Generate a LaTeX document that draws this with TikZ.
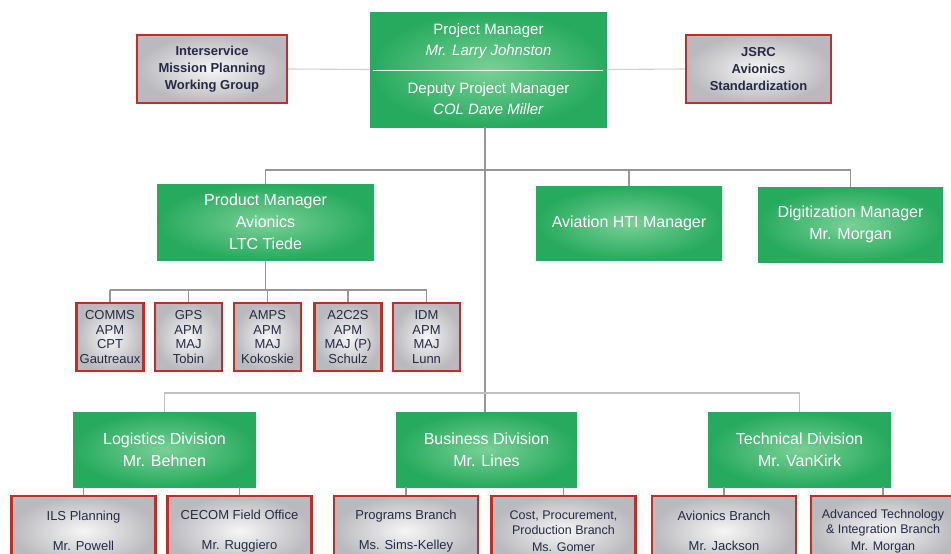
\documentclass[tikz,border=0pt]{standalone}
\usepackage{fontspec}
\setmainfont{Liberation Sans}
\usepackage{tikz}
\usetikzlibrary{calc}
\definecolor{MgrGreen}{RGB}{38,170,94}
\definecolor{MgrGlow}{RGB}{122,208,150}
\definecolor{BoxRed}{RGB}{196,44,38}
\definecolor{BoxGrey}{RGB}{186,186,190}
\definecolor{BoxShine}{RGB}{246,246,246}
\definecolor{InkNavy}{RGB}{38,42,70}
\definecolor{WireGrey}{RGB}{150,150,150}

\begin{document}
\begin{tikzpicture}[x=1pt,y=-1pt,
    mgr/.style={rectangle,inner sep=0pt,outer color=MgrGreen,inner color=MgrGlow,text=white,align=center,font=\fontsize{16}{22}\selectfont},
    staff/.style={rectangle,inner sep=0pt,draw=BoxRed,line width=2.4pt,outer color=BoxGrey,inner color=BoxShine,text=InkNavy,align=center},
    apm/.style={staff,minimum width=67pt,minimum height=68pt,font=\fontsize{13}{14.5}\selectfont},
    branch/.style={staff,minimum width=144pt,minimum height=70pt,font=\fontsize{13}{16}\selectfont},
    wire/.style={WireGrey,line width=1.1pt}]
  \path[use as bounding box,clip] (0,0) rectangle (951,554);
  \fill[white] (0,0) rectangle (951,554);

  \node[mgr,minimum width=237pt,minimum height=115pt,font=\fontsize{15}{21}\selectfont] (pm) at (488.5,69.5)
    {Project Manager\\\textit{Mr. Larry Johnston}\\[17pt]Deputy Project Manager\\\textit{COL Dave Miller}};
  \draw[white,line width=1.6pt] ($(pm.west)+(3,1)$) -- ($(pm.east)+(-4,1)$);
  \node[staff,minimum width=150pt,minimum height=68pt,font=\bfseries\fontsize{13}{17}\selectfont] (isg) at (212,69)
    {Interservice\\Mission Planning\\Working Group};
  \node[staff,minimum width=145pt,minimum height=68pt,font=\bfseries\fontsize{13}{17}\selectfont] (jsrc) at (758.5,69)
    {JSRC\\Avionics\\Standardization};

  \node[mgr,minimum width=217pt,minimum height=76pt] (prodmgr) at (265.5,222) {Product Manager\\Avionics\\LTC Tiede};
  \node[mgr,minimum width=186pt,minimum height=74pt] (hti) at (629,223) {Aviation HTI Manager};
  \node[mgr,minimum width=185pt,minimum height=75pt] (digi) at (850.5,224.5) {Digitization Manager\\Mr. Morgan};

  \node[apm] (comms) at (110,337) {COMMS\\APM\\CPT\\Gautreaux};
  \node[apm] (gps) at (188.5,337) {GPS\\APM\\MAJ\\Tobin};
  \node[apm] (amps) at (267.5,337) {AMPS\\APM\\MAJ\\Kokoskie};
  \node[apm] (acs) at (348,337) {A2C2S\\APM\\MAJ (P)\\Schulz};
  \node[apm] (idm) at (426.5,337) {IDM\\APM\\MAJ\\Lunn};

  \node[mgr,minimum width=183pt,minimum height=75pt] (logdiv) at (164.5,449.5) {Logistics Division\\Mr. Behnen};
  \node[mgr,minimum width=181pt,minimum height=75pt] (busdiv) at (486.5,449.5) {Business Division\\Mr. Lines};
  \node[mgr,minimum width=183pt,minimum height=75pt] (techdiv) at (799.5,449.5) {Technical Division\\Mr. VanKirk};

  \node[branch] (ils) at (83.5,531) {ILS Planning\\[14pt]Mr. Powell};
  \node[branch] (cecom) at (239.5,531) {CECOM Field Office\\[14pt]Mr. Ruggiero};
  \node[branch] (progbr) at (406,531) {Programs Branch\\[14pt]Ms. Sims-Kelley};
  \node[branch,font=\fontsize{12.5}{15}\selectfont] (costbr) at (563.5,531) {Cost, Procurement,\\Production Branch\\[2pt]Ms. Gomer};
  \node[branch] (avbr) at (724,531) {Avionics Branch\\[14pt]Mr. Jackson};
  \node[branch,font=\fontsize{12.5}{15}\selectfont] (atibr) at (883,531) {Advanced Technology\\\& Integration Branch\\[2pt]Mr. Morgan};

  \coordinate (topbus) at (485,170);
  \coordinate (apmbus) at (265,290);
  \coordinate (divbus) at (485,393);

  \draw[wire,WireGrey!45] (isg.east) -- (pm.west);
  \draw[wire,WireGrey!45] (jsrc.west) -- (pm.east);
  \draw[wire] (topbus |- pm.south) -- (topbus |- busdiv.north);
  \draw[wire] (prodmgr.north) -- (prodmgr.north |- topbus) -- (digi.north |- topbus) -- (digi.north);
  \draw[wire] (hti.north) -- (hti.north |- topbus);
  \draw[wire] (prodmgr.south) -- (prodmgr.south |- apmbus);
  \draw[wire] (comms.north |- apmbus) -- (idm.north |- apmbus);
  \foreach \b in {comms,gps,amps,acs,idm}
    \draw[wire] (\b.north) -- (\b.north |- apmbus);
  \draw[wire,WireGrey!60] (logdiv.north) -- (logdiv.north |- divbus) -- (techdiv.north |- divbus) -- (techdiv.north);
  \foreach \d/\b in {logdiv/ils,logdiv/cecom,busdiv/progbr,busdiv/costbr,techdiv/avbr,techdiv/atibr}
    \draw[wire] (\d.south -| \b.north) -- (\b.north);
\end{tikzpicture}
\end{document}
